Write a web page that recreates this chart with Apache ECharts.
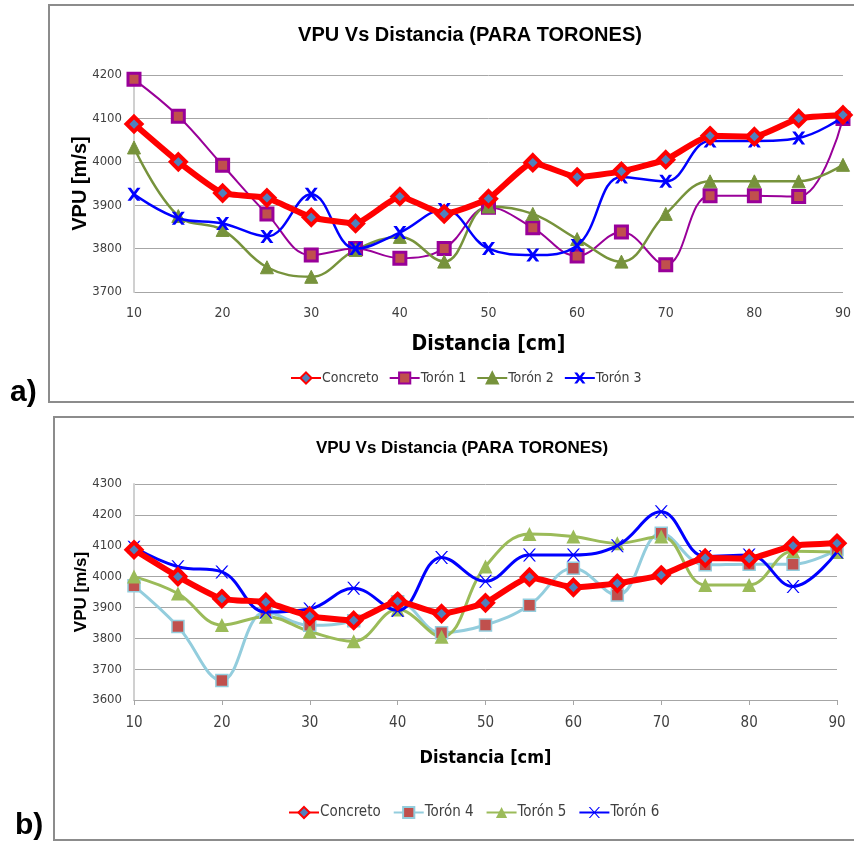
<!doctype html>
<html lang="es">
<head>
    <meta charset="UTF-8">
    <title>VPU Vs Distancia (PARA TORONES)</title>
    <style>
        html, body { margin: 0; padding: 0; background: #fff; }
        #main { width: 854px; height: 846px; }
    </style>
</head>
<body>
<div id="main"></div>
<script src="https://cdn.jsdelivr.net/npm/echarts@6/dist/echarts.min.js"></script>
<script>
    // distancias (cm)
    var distancias = [10, 15, 20, 25, 30, 35, 40, 45, 50, 55, 60, 65, 70, 75, 80, 85, 90];

    // a) torones 1-3
    var concreto = [4087, 4000, 3928, 3917, 3872, 3858, 3920, 3880, 3915, 3998, 3965, 3978, 4005, 4060, 4058, 4100, 4108];
    var toron1 = [4190, 4105, 3992, 3880, 3785, 3800, 3778, 3800, 3895, 3848, 3783, 3838, 3763, 3922, 3922, 3920, 4100];
    var toron2 = [4033, 3875, 3843, 3757, 3735, 3797, 3827, 3770, 3897, 3880, 3822, 3770, 3880, 3955, 3955, 3955, 3993];
    var toron3 = [3925, 3870, 3858, 3828, 3925, 3800, 3837, 3890, 3800, 3785, 3807, 3965, 3955, 4048, 4048, 4055, 4103];

    // b) torones 4-6
    var toron4 = [3970, 3838, 3663, 3885, 3842, 3857, 3918, 3818, 3843, 3907, 4027, 3940, 4140, 4038, 4040, 4040, 4087];
    var toron5 = [4000, 3945, 3843, 3870, 3822, 3790, 3893, 3805, 4033, 4138, 4130, 4108, 4130, 3973, 3973, 4082, 4080];
    var toron6 = [4095, 4032, 4015, 3885, 3895, 3962, 3890, 4062, 3985, 4070, 4070, 4100, 4210, 4065, 4070, 3968, 4080];

    var narrow = '"DejaVu Sans Condensed", "Liberation Sans Narrow", "Liberation Sans", Arial, sans-serif';
    var sans = '"Liberation Sans", Arial, sans-serif';

    // cruz para los marcadores "x"
    var cruzGruesa = 'path://M0,0 L2.6,0 L5,3.2 L7.4,0 L10,0 L6.4,5 L10,10 L7.4,10 L5,6.8 L2.6,10 L0,10 L3.6,5 Z';
    var cruzFina = 'path://M0,0 L1.2,0 L5,4.3 L8.8,0 L10,0 L5.7,5 L10,10 L8.8,10 L5,5.7 L1.2,10 L0,10 L4.3,5 Z';

    function pares(vals) {
        return distancias.map(function (d, i) { return [d, vals[i]]; });
    }

    function ejeX(idx, margen, fs) {
        return {
            gridIndex: idx,
            type: 'value',
            min: 10, max: 90, interval: 10,
            name: 'Distancia [cm]',
            nameLocation: 'middle',
            nameGap: idx == 0 ? 42 : 49,
            nameTextStyle: { fontFamily: narrow, fontWeight: 'bold', fontSize: idx == 0 ? 21 : 18, color: '#000' },
            axisLine: { show: idx == 1, lineStyle: { color: '#a6a6a6' } },
            axisTick: { show: idx == 1, length: 5, lineStyle: { color: '#a6a6a6' } },
            splitLine: { show: false },
            axisLabel: { margin: margen, fontFamily: narrow, fontSize: fs, color: '#404040' }
        };
    }

    function ejeY(idx, min, max, fs) {
        return {
            gridIndex: idx,
            type: 'value',
            min: min, max: max, interval: 100,
            name: 'VPU [m/s]',
            nameLocation: 'middle',
            nameMoveOverlap: false,
            nameGap: 44,
            nameTextStyle: { fontFamily: sans, fontWeight: 'bold', fontSize: idx == 0 ? 20 : 17, color: '#000' },
            axisLine: { show: true, lineStyle: { color: '#d0d0d0', width: 2 } },
            axisTick: { show: false },
            splitLine: { lineStyle: { color: '#a6a6a6', width: 1 } },
            axisLabel: {
                margin: 12, fontFamily: narrow, fontSize: fs, color: '#404040',
                formatter: function (v) { return String(v); }
            }
        };
    }

    function serieConcreto(idx) {
        return {
            name: 'Concreto', type: 'line', xAxisIndex: idx, yAxisIndex: idx,
            data: pares(concreto), smooth: 0.15, z: 5,
            symbol: 'diamond', symbolSize: 15,
            lineStyle: { color: '#ff0000', width: 6 },
            itemStyle: { color: '#4f81bd', borderColor: '#ff0000', borderWidth: 4 }
        };
    }

    var series = [
        serieConcreto(0),
        {
            name: 'Torón 1', type: 'line', xAxisIndex: 0, yAxisIndex: 0,
            data: pares(toron1), smooth: 0.4, z: 3,
            symbol: 'rect', symbolSize: 12,
            lineStyle: { color: '#990099', width: 2 },
            itemStyle: { color: '#c0504d', borderColor: '#990099', borderWidth: 3 }
        },
        {
            name: 'Torón 2', type: 'line', xAxisIndex: 0, yAxisIndex: 0,
            data: pares(toron2), smooth: 0.4, z: 3,
            symbol: 'triangle', symbolSize: 13,
            lineStyle: { color: '#77933c', width: 2.5 },
            itemStyle: { color: '#77933c', borderColor: '#77933c', borderWidth: 1 }
        },
        {
            name: 'Torón 3', type: 'line', xAxisIndex: 0, yAxisIndex: 0,
            data: pares(toron3), smooth: 0.4, z: 4,
            symbol: cruzGruesa, symbolSize: 13,
            lineStyle: { color: '#0000ff', width: 2.5 },
            itemStyle: { color: '#0000ff', borderWidth: 0 }
        },
        serieConcreto(1),
        {
            name: 'Torón 4', type: 'line', xAxisIndex: 1, yAxisIndex: 1,
            data: pares(toron4), smooth: 0.4, z: 3,
            symbol: 'rect', symbolSize: 12,
            lineStyle: { color: '#93cddd', width: 3 },
            itemStyle: { color: '#c0504d', borderColor: '#93cddd', borderWidth: 1.5 }
        },
        {
            name: 'Torón 5', type: 'line', xAxisIndex: 1, yAxisIndex: 1,
            data: pares(toron5), smooth: 0.4, z: 3,
            symbol: 'triangle', symbolSize: 14,
            lineStyle: { color: '#9bbb59', width: 3 },
            itemStyle: { color: '#9bbb59', borderWidth: 0 }
        },
        {
            name: 'Torón 6', type: 'line', xAxisIndex: 1, yAxisIndex: 1,
            data: pares(toron6), smooth: 0.4, z: 4,
            symbol: cruzFina, symbolSize: 13,
            lineStyle: { color: '#0000ff', width: 3 },
            itemStyle: { color: '#0000ff', borderWidth: 0 }
        }
    ];

    var myChart = echarts.init(document.getElementById('main'));
    var option = {
        backgroundColor: '#fff',
        animation: false,
        title: [
            {
                text: 'VPU Vs Distancia (PARA TORONES)',
                left: 465, top: 20, textAlign: 'center',
                textStyle: { fontFamily: sans, fontWeight: 'bold', fontSize: 20, color: '#000' }
            },
            {
                text: 'VPU Vs Distancia (PARA TORONES)',
                left: 457, top: 435, textAlign: 'center',
                textStyle: { fontFamily: sans, fontWeight: 'bold', fontSize: 17, color: '#000' }
            }
        ],
        grid: [
            { left: 134, right: 9, top: 75, height: 217 },
            { left: 134, right: 17, top: 484, height: 216 }
        ],
        xAxis: [ejeX(0, 14, 14), ejeX(1, 16, 15)],
        yAxis: [ejeY(0, 3700, 4200, 13), ejeY(1, 3600, 4300, 13)],
        legend: [
            {
                data: ['Concreto', 'Torón 1', 'Torón 2', 'Torón 3'],
                left: 285, top: 366, itemGap: 10, itemWidth: 30, itemHeight: 14,
                textStyle: { fontFamily: narrow, fontSize: 14, color: '#404040', padding: [0, 0, 0, -4] }
            },
            {
                data: ['Concreto', 'Torón 4', 'Torón 5', 'Torón 6'],
                left: 283, top: 800, itemGap: 12, itemWidth: 30, itemHeight: 14,
                textStyle: { fontFamily: narrow, fontSize: 15, color: '#404040', padding: [0, 0, 0, -4] }
            }
        ],
        graphic: [
            {
                type: 'rect', shape: { x: 49, y: 5, width: 820, height: 397 },
                style: { fill: null, stroke: '#8c8c8c', lineWidth: 2 }, z: -1
            },
            {
                type: 'rect', shape: { x: 54, y: 417, width: 820, height: 423 },
                style: { fill: null, stroke: '#8c8c8c', lineWidth: 2 }, z: -1
            },
            {
                type: 'text', left: 10, top: 378,
                style: { text: 'a)', font: 'bold 30px "Liberation Sans", Arial, sans-serif', fill: '#000' }
            },
            {
                type: 'text', left: 15, top: 811,
                style: { text: 'b)', font: 'bold 30px "Liberation Sans", Arial, sans-serif', fill: '#000' }
            }
        ],
        series: series
    };
    myChart.setOption(option);
</script>
</body>
</html>
